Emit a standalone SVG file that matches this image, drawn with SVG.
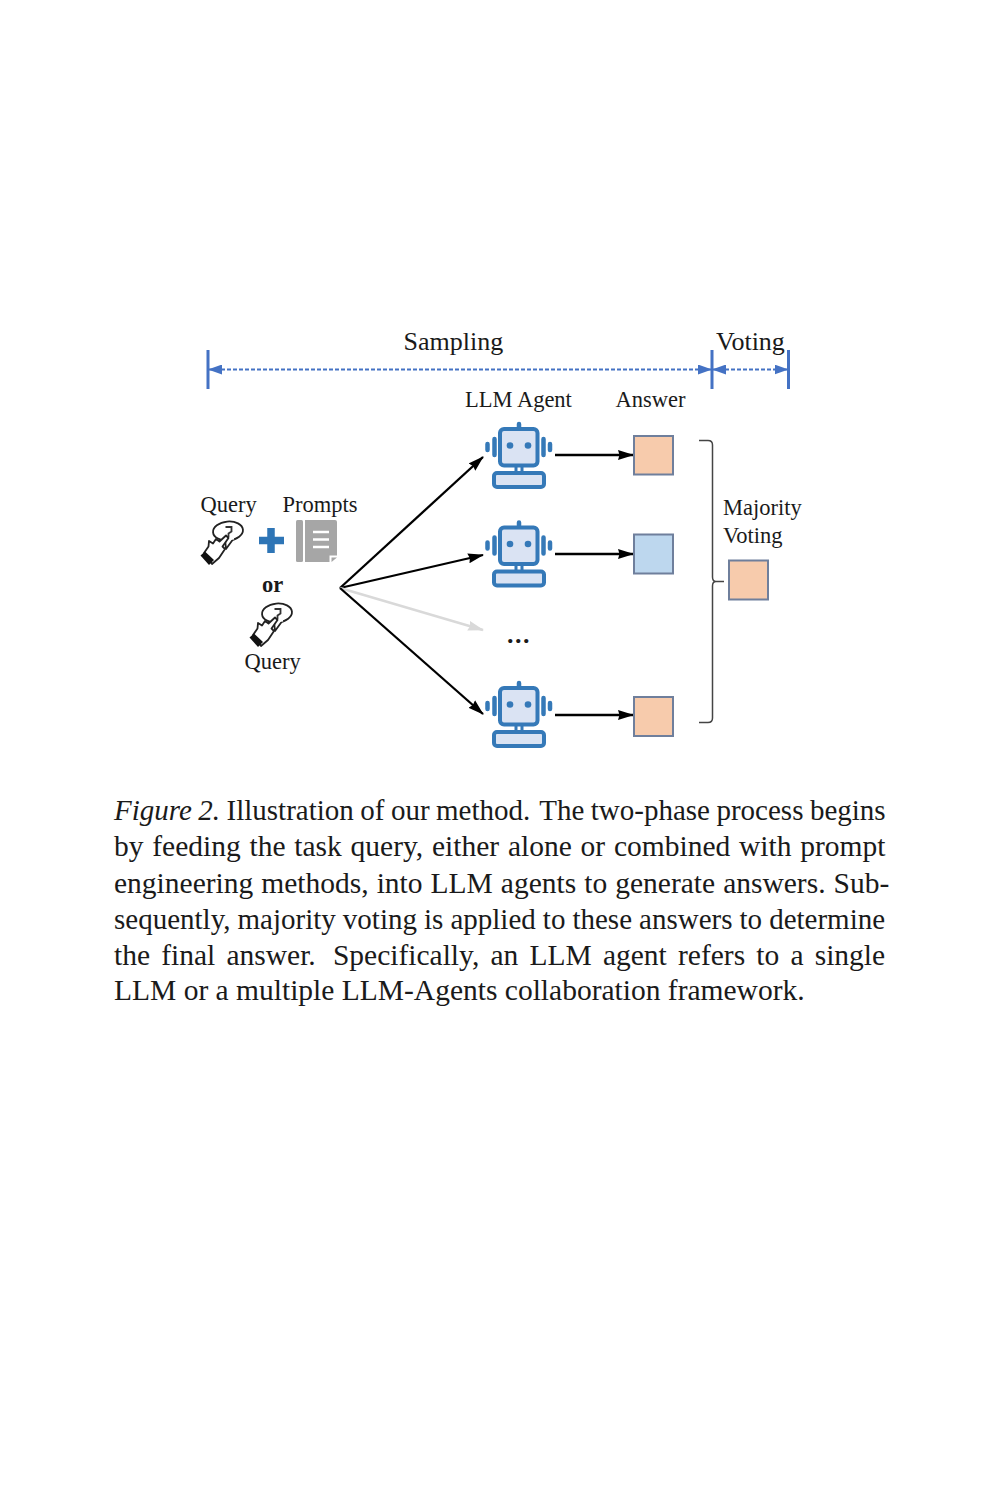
<svg xmlns="http://www.w3.org/2000/svg" width="1000" height="1500" viewBox="0 0 1000 1500">
<style>
text{font-family:"Liberation Serif","Times New Roman",serif;fill:#1a1a1a}
.l{font-size:22.5px}
.m{font-size:26px}
.c{font-size:29.5px}
.ans{stroke:#6f7f9c;stroke-width:2}
.peach{fill:#f7cbac}
.blue{fill:#bdd7ee}
.k{stroke:#000;stroke-width:2.3;fill:none}
.b{stroke:#4472c4;fill:none}
.rb{stroke:#3579b8;fill:#dae3f3;stroke-width:4;stroke-linejoin:round}
.rl{stroke:#3579b8;stroke-width:4.500;stroke-linecap:round;fill:none}
.h{fill:#fff;stroke:#222;stroke-width:1.800;stroke-linejoin:round}
</style>
<defs>
<marker id="ah" markerUnits="userSpaceOnUse" markerWidth="16" markerHeight="11" refX="15" refY="5.500" orient="auto"><path d="M0 0.500L16 5.500L0 10.500L1.500 5.500Z" fill="#000"/></marker>
<marker id="ag" markerUnits="userSpaceOnUse" markerWidth="16" markerHeight="11" refX="15" refY="5.500" orient="auto"><path d="M0 0.500L16 5.500L0 10.500L1.500 5.500Z" fill="#d9d9d9"/></marker>
<marker id="ab" markerUnits="userSpaceOnUse" markerWidth="14" markerHeight="10" refX="13" refY="5" orient="auto-start-reverse"><path d="M0 0L14 5L0 10Z" fill="#4472c4"/></marker>
<g id="robot">
<path d="M516 466V473M522 466V473" stroke="#3579b8" stroke-width="3" fill="none"/>
<rect class="rb" x="494" y="473" width="50" height="14" rx="3"/>
<rect class="rb" x="500" y="429" width="37.500" height="36.500" rx="4"/>
<path class="rl" d="M519 424V427M494.500 439V455M487.500 444V450M543.500 439V455M550 444V450"/>
<circle cx="510" cy="445.500" r="3.300" fill="#3579b8"/><circle cx="528" cy="445.500" r="3.300" fill="#3579b8"/>
</g>
<g id="hand">
<ellipse class="h" cx="228" cy="531" rx="15" ry="9.500" transform="rotate(-5 228 531)"/>
<path class="h" d="M225 539L226 549L234 538" stroke-width="1.500"/>
<path d="M225 539L234 538" stroke="#fff" stroke-width="3"/>
<path d="M225.500 527H231.500V531.500L228.500 533.500V537" fill="none" stroke="#333" stroke-width="1.800"/>
<path class="h" d="M204 553L208.500 546.500L209 541L213 543.500L216 539L219.500 541.500L226 535.500L228.500 538L222.500 546.500L225 549L219 558L212 564Z"/>
<path d="M200.500 555.500L205 551.500L214 560L209 565Z" fill="#111"/>
</g>
</defs>
<g id="connectors">
<path class="k" d="M340 588L483 457" marker-end="url(#ah)"/>
<path class="k" d="M340 588L483 555" marker-end="url(#ah)"/>
<path d="M340 588L483 630" stroke="#d9d9d9" stroke-width="2.400" fill="none" marker-end="url(#ag)"/>
<path class="k" d="M340 588L483 714" marker-end="url(#ah)"/>
<path class="k" d="M555 455H633" marker-end="url(#ah)"/>
<path class="k" d="M555 554H633" marker-end="url(#ah)"/>
<path class="k" d="M555 715H633" marker-end="url(#ah)"/>
</g>
<g id="timeline">
<path class="b" stroke-width="3" d="M208 350V389M712 350V389M788.500 350V389"/>
<path class="b" stroke-width="2" stroke-dasharray="4 2" d="M209 369.500H711" marker-start="url(#ab)" marker-end="url(#ab)"/>
<path class="b" stroke-width="2" stroke-dasharray="4 2" d="M713 369.500H787.500" marker-start="url(#ab)" marker-end="url(#ab)"/>
<text id="t-sampling" class="m" x="403.500" y="350">Sampling</text>
<text id="t-voting" class="m" x="716" y="350">Voting</text>
</g>
<g id="labels">
<text class="l" x="465" y="407">LLM Agent</text>
<text class="l" x="615.500" y="407">Answer</text>
</g>
<g id="query-prompts">
<text class="l" x="200.500" y="512">Query</text>
<text class="l" x="282.500" y="512">Prompts</text>
<use href="#hand"/>
<path d="M271 528V553M259 540.500H284" stroke="#2e75b6" stroke-width="7.500" fill="none"/>
<rect x="296" y="520" width="7" height="42" rx="1.500" fill="#a6a6a6"/>
<path d="M305 520H335a2 2 0 0 1 2 2V560a2 2 0 0 1 -2 2H305Z" fill="#a6a6a6"/>
<path d="M329.500 562.500V555.500H337.500V562.500Z" fill="#fff"/>
<path d="M331.500 562V557.500H337Z" fill="#a6a6a6"/>
<path d="M313 532H329M313 539.500H329M313 547H329" stroke="#fff" stroke-width="2.400"/>
</g>
<g id="query-alone">
<text class="l" x="262" y="592" font-weight="bold">or</text>
<use href="#hand" x="49" y="82"/>
<text class="l" x="244.500" y="668.500">Query</text>
</g>
<g id="agent-1"><use href="#robot"/></g>
<g id="agent-2"><use href="#robot" y="98.500"/></g>
<g id="dots"><text class="m" x="507" y="643" font-weight="bold" letter-spacing="1.500">...</text></g>
<g id="agent-3"><use href="#robot" y="259"/></g>
<g id="answer-1"><rect class="ans peach" x="634" y="436" width="39" height="38.500"/></g>
<g id="answer-2"><rect class="ans blue" x="634" y="534.500" width="39" height="39"/></g>
<g id="answer-3"><rect class="ans peach" x="634" y="697" width="39" height="39"/></g>
<g id="majority">
<path d="M699 440.500H708Q712.500 440.500 712.500 445V577Q712.500 581.500 716 581.500Q712.500 581.500 712.500 586V718Q712.500 722.500 708 722.500H699M716 581.500H724" stroke="#444" stroke-width="1.500" fill="none"/>
<text class="l" x="723" y="515">Majority</text>
<text class="l" x="723" y="543">Voting</text>
<rect class="ans peach" x="729" y="560.500" width="39" height="39"/>
</g>
<g id="caption">
<text class="c" style="font-size:29px" x="114" y="820" word-spacing="-0.780"><tspan font-style="italic">Figure 2.</tspan> Illustration of our method.<tspan dx="3"> The two-phase process begins</tspan></text>
<text class="c" x="114" y="856" word-spacing="1.400">by feeding the task query, either alone or combined with prompt</text>
<text class="c" x="114" y="893" word-spacing="0.650">engineering methods, into LLM agents to generate answers. Sub-</text>
<text class="c" style="font-size:29px" x="114" y="929" word-spacing="-0.200">sequently, majority voting is applied to these answers to determine</text>
<text class="c" x="114" y="965" word-spacing="3.800">the final answer.<tspan dx="6"> Specifically, an LLM agent refers to a single</tspan></text>
<text class="c" x="114" y="1000">LLM or a multiple LLM-Agents collaboration framework.</text>
</g>
</svg>
